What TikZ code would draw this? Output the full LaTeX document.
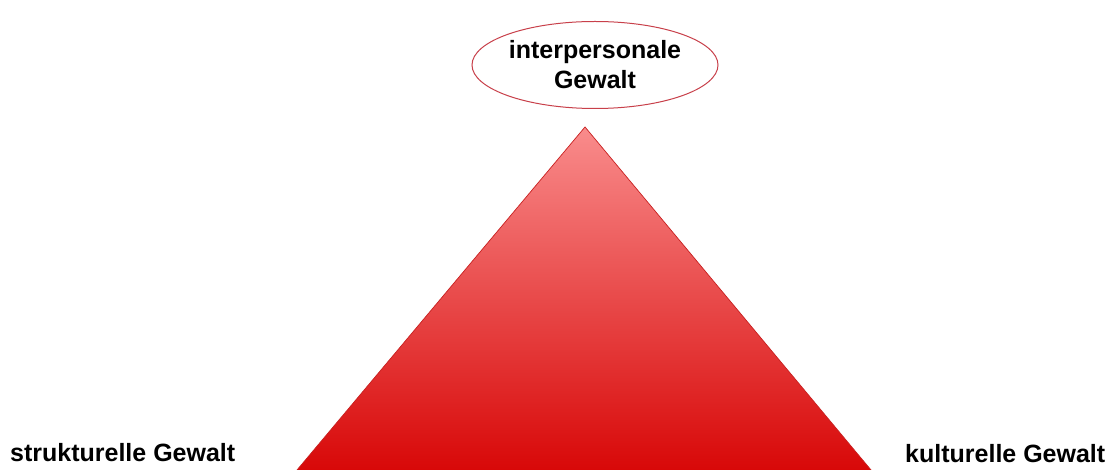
\documentclass[tikz,border=0pt]{standalone}
\usepackage{fontspec}
\setmainfont{Liberation Sans}
\usetikzlibrary{shapes.geometric}
\definecolor{tritop}{HTML}{F98C8C}
\definecolor{tribot}{HTML}{D80808}
\definecolor{triedge}{HTML}{C82020}
\definecolor{elledge}{HTML}{C8404A}
\tikzset{
  lbl/.style={font=\fontsize{25}{30}\selectfont\bfseries, inner sep=0pt},
  ellbox/.style={ellipse, draw=elledge, line width=1pt, fill=white, minimum width=246pt, minimum height=87pt, inner sep=0pt, align=center, font=\fontsize{25}{30}\selectfont\bfseries}
}
\begin{document}
\begin{tikzpicture}[x=1pt,y=-1pt]
\useasboundingbox (0,0) rectangle (1112,470);
\coordinate (apex) at (585,127);
\coordinate (bl) at (297,470);
\coordinate (br) at (871,470);
\shade[top color=tritop, bottom color=tribot, shading angle=0] (apex) -- (br) -- (bl) -- cycle;
\draw[triedge, line width=0.7pt] (bl) -- (apex) -- (br);
\node[ellbox] (ip) at (595,65) {interpersonale\\Gewalt};
\node[lbl, anchor=base west] (sg) at (10,461) {strukturelle Gewalt};
\node[lbl, anchor=base west] (kg) at (905,463) {kulturelle Gewalt};
\end{tikzpicture}
\end{document}
